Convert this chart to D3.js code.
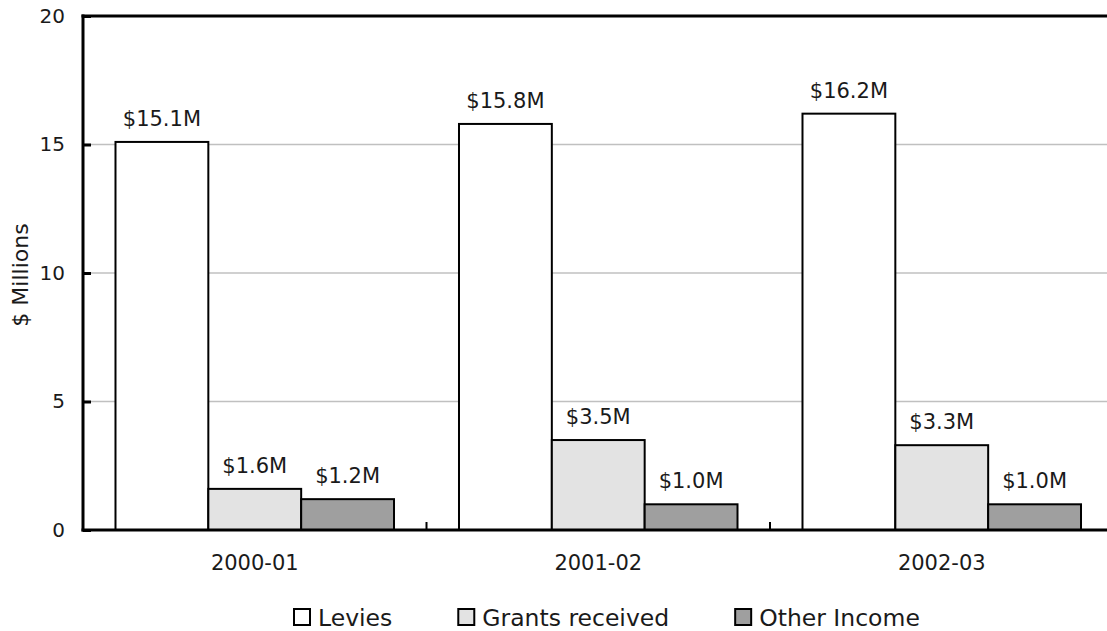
<!DOCTYPE html>
<html>
<head>
<meta charset="utf-8">
<script src="https://cdn.jsdelivr.net/npm/d3@7"></script>
<style>
  html, body { margin: 0; padding: 0; background: #fff; }
  svg { display: block; font-family: "DejaVu Sans", Verdana, sans-serif; }
</style>
</head>
<body>
<svg id="chart" width="1107" height="631"></svg>
<script>
// Income by source, $ millions
const years = ["2000-01", "2001-02", "2002-03"];
const seriesNames = ["Levies", "Grants received", "Other Income"];
const levies = [15.1, 15.8, 16.2];
const grants = [1.6, 3.5, 3.3];
const other = [1.2, 1.0, 1.0];
const yTicks = [0, 5, 10, 15, 20];
const fills = ["#ffffff", "#e3e3e3", "#9f9f9f"];

(function () {
  const seriesValues = [levies, grants, other];
  const rows = years.map((yr, i) => ({
    year: yr,
    values: seriesNames.map((s, k) => ({ key: s, value: seriesValues[k][i], k }))
  }));

  const W = 1107;
  const plotLeft = 83, plotTop = 16, plotBottom = 530, bandRight = 1113.5;
  const textColor = "#1a1a1a";

  const svg = d3.select("#chart");

  const y = d3.scaleLinear().domain([0, 20]).range([plotBottom, plotTop]);
  const x0 = d3.scaleBand().domain(years).range([plotLeft, bandRight]).padding(0);
  const x1 = d3.scaleBand().domain(seriesNames).range([0, x0.bandwidth()])
    .paddingInner(0).paddingOuter(0.35);

  // horizontal gridlines
  svg.append("g")
    .selectAll("line")
    .data(yTicks.filter(t => t > 0 && t < 20))
    .join("line")
    .attr("x1", plotLeft).attr("x2", W)
    .attr("y1", d => y(d)).attr("y2", d => y(d))
    .attr("stroke", "#c0c0c0").attr("stroke-width", 1.5);

  // bars
  const groups = svg.append("g")
    .selectAll("g")
    .data(rows)
    .join("g")
    .attr("transform", d => `translate(${x0(d.year)},0)`);

  groups.selectAll("rect")
    .data(d => d.values)
    .join("rect")
    .attr("x", d => x1(d.key))
    .attr("width", x1.bandwidth())
    .attr("y", d => y(d.value))
    .attr("height", d => y(0) - y(d.value))
    .attr("fill", d => fills[d.k])
    .attr("stroke", "#000")
    .attr("stroke-width", 2);

  groups.selectAll("text")
    .data(d => d.values)
    .join("text")
    .attr("x", d => x1(d.key) + x1.bandwidth() / 2)
    .attr("y", d => y(d.value) - 16)
    .attr("text-anchor", "middle")
    .attr("font-size", 21)
    .attr("fill", textColor)
    .text(d => "$" + d.value.toFixed(1) + "M");

  // y axis
  const yAxis = svg.append("g")
    .attr("transform", `translate(${plotLeft},0)`)
    .call(d3.axisLeft(y).tickValues(yTicks).tickSizeInner(-8).tickSizeOuter(0).tickPadding(18));
  yAxis.select(".domain").remove();
  yAxis.selectAll(".tick line").attr("stroke", "#000").attr("stroke-width", 3);
  yAxis.selectAll(".tick text").attr("font-size", 20).attr("fill", textColor)
    .attr("font-family", "DejaVu Sans, Verdana, sans-serif");

  // x axis labels (centred in each band)
  const xAxis = svg.append("g")
    .attr("transform", `translate(0,${plotBottom})`)
    .call(d3.axisBottom(x0).tickSize(0).tickPadding(25));
  xAxis.select(".domain").remove();
  xAxis.selectAll(".tick text").attr("font-size", 21).attr("fill", textColor)
    .attr("font-family", "DejaVu Sans, Verdana, sans-serif");

  // category separator ticks
  svg.append("g")
    .selectAll("line")
    .data(years.slice(1))
    .join("line")
    .attr("x1", d => x0(d)).attr("x2", d => x0(d))
    .attr("y1", plotBottom).attr("y2", plotBottom - 8)
    .attr("stroke", "#000").attr("stroke-width", 2);

  // frame: left axis, baseline, top edge
  const frame = svg.append("g").attr("stroke", "#000").attr("stroke-width", 3);
  frame.append("line").attr("x1", plotLeft).attr("x2", plotLeft).attr("y1", plotTop - 1.5).attr("y2", plotBottom + 1.5);
  frame.append("line").attr("x1", plotLeft - 1.5).attr("x2", W).attr("y1", plotBottom).attr("y2", plotBottom);
  frame.append("line").attr("x1", plotLeft - 1.5).attr("x2", W).attr("y1", plotTop).attr("y2", plotTop);

  // y axis title
  svg.append("text")
    .attr("transform", "translate(28,275) rotate(-90)")
    .attr("text-anchor", "middle")
    .attr("font-size", 22)
    .attr("fill", textColor)
    .text("$ Millions");

  // legend
  const legend = svg.append("g").attr("transform", "translate(293,0)");
  let lx = 0;
  seriesNames.forEach((name, k) => {
    const item = legend.append("g").attr("transform", `translate(${lx},0)`);
    item.append("rect")
      .attr("x", 1).attr("y", 609).attr("width", 16).attr("height", 16)
      .attr("fill", fills[k]).attr("stroke", "#000").attr("stroke-width", 2);
    const t = item.append("text")
      .attr("x", 25).attr("y", 625.5)
      .attr("font-size", 23.5)
      .attr("fill", textColor)
      .text(name);
    lx += 25 + t.node().getComputedTextLength() + 65;
  });
})();
</script>
</body>
</html>
